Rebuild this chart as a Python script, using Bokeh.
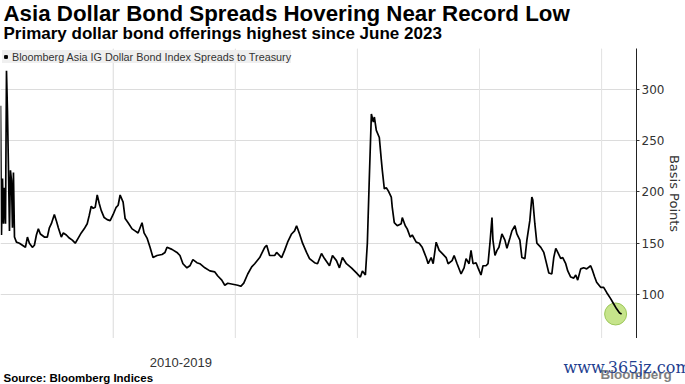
from bokeh.plotting import figure
from bokeh.layouts import column
from bokeh.models import Range1d, FixedTicker, Legend, LegendItem, Label
from bokeh.embed import file_html
from bokeh.resources import INLINE

# decimal-year positions and index spreads (basis points)
years = [2014.155, 2014.171, 2014.188, 2014.204, 2014.220, 2014.237, 2014.253, 2014.269, 2014.286, 2014.302,
         2014.318, 2014.335, 2014.351, 2014.367, 2014.384, 2014.416, 2014.465, 2014.514, 2014.563, 2014.596,
         2014.628, 2014.677, 2014.710, 2014.743, 2014.775, 2014.808, 2014.873, 2014.922, 2014.955, 2014.988,
         2015.037, 2015.069, 2015.102, 2015.151, 2015.184, 2015.233, 2015.282, 2015.331, 2015.379, 2015.428,
         2015.477, 2015.526, 2015.575, 2015.608, 2015.641, 2015.673, 2015.706, 2015.739, 2015.771, 2015.804,
         2015.853, 2015.902, 2015.951, 2016.000, 2016.049, 2016.082, 2016.114, 2016.163, 2016.196, 2016.245,
         2016.310, 2016.359, 2016.408, 2016.473, 2016.506, 2016.555, 2016.604, 2016.653, 2016.718, 2016.800,
         2016.849, 2016.882, 2016.963, 2017.045, 2017.094, 2017.143, 2017.208, 2017.257, 2017.306, 2017.371,
         2017.420, 2017.502, 2017.584, 2017.665, 2017.714, 2017.779, 2017.828, 2017.877, 2017.959, 2018.041,
         2018.090, 2018.139, 2018.204, 2018.269, 2018.318, 2018.400, 2018.482, 2018.514, 2018.563, 2018.645,
         2018.677, 2018.759, 2018.808, 2018.857, 2018.922, 2018.971, 2019.004, 2019.053, 2019.102, 2019.167,
         2019.216, 2019.298, 2019.347, 2019.412, 2019.461, 2019.543, 2019.592, 2019.657, 2019.706, 2019.755,
         2019.820, 2019.902, 2019.984, 2020.049, 2020.082, 2020.131, 2020.163, 2020.196, 2020.229, 2020.261,
         2020.278, 2020.310, 2020.359, 2020.392, 2020.408, 2020.441, 2020.473, 2020.506, 2020.555, 2020.571,
         2020.604, 2020.653, 2020.718, 2020.735, 2020.784, 2020.816, 2020.865, 2020.898, 2020.963, 2021.012,
         2021.061, 2021.094, 2021.127, 2021.159, 2021.208, 2021.241, 2021.290, 2021.339, 2021.388, 2021.453,
         2021.486, 2021.551, 2021.584, 2021.633, 2021.698, 2021.747, 2021.780, 2021.829, 2021.861, 2021.894,
         2021.943, 2021.976, 2022.024, 2022.057, 2022.106, 2022.139, 2022.171, 2022.204, 2022.220, 2022.253,
         2022.286, 2022.318, 2022.367, 2022.416, 2022.449, 2022.498, 2022.531, 2022.580, 2022.612, 2022.661,
         2022.694, 2022.743, 2022.776, 2022.824, 2022.857, 2022.873, 2022.906, 2022.939, 2023.004, 2023.053,
         2023.086, 2023.135, 2023.184, 2023.216, 2023.249, 2023.282, 2023.331, 2023.363, 2023.412, 2023.445,
         2023.494, 2023.543, 2023.576, 2023.608, 2023.657, 2023.706, 2023.755, 2023.820, 2023.853, 2023.886,
         2023.918, 2023.984, 2024.033, 2024.082, 2024.147, 2024.196, 2024.245, 2024.294, 2024.327]
spreads = [284, 158, 213, 169, 204, 169, 318, 279, 221, 162,
           221, 211, 165, 219, 156, 151, 150, 148, 146, 156,
           150, 146, 148, 158, 164, 159, 156, 156, 165, 169,
           178, 172, 165, 156, 160, 158, 155, 153, 150, 155,
           160, 164, 169, 177, 186, 184, 185, 197, 189, 182,
           175, 173, 172, 178, 185, 187, 197, 190, 174, 170,
           164, 162, 160, 170, 160, 155, 146, 136, 138, 139,
           141, 146, 144, 141, 138, 130, 126, 128, 134, 131,
           130, 126, 123, 122, 118, 114, 109, 111, 110, 109,
           108, 111, 120, 127, 130, 136, 146, 148, 138, 138,
           141, 136, 143, 151, 159, 162, 167, 159, 150, 141,
           135, 131, 130, 140, 135, 128, 138, 133, 126, 136,
           130, 126, 121, 117, 123, 119, 150, 215, 276, 268,
           273, 260, 253, 231, 221, 203, 204, 201, 195, 185,
           170, 167, 169, 175, 167, 164, 156, 158, 151, 150,
           146, 141, 136, 130, 136, 130, 151, 143, 140, 136,
           130, 133, 138, 130, 120, 126, 135, 130, 143, 130,
           131, 126, 119, 128, 128, 130, 150, 175, 153, 138,
           143, 146, 159, 153, 145, 155, 162, 167, 159, 153,
           136, 135, 153, 172, 195, 192, 169, 150, 146, 141,
           133, 121, 120, 136, 145, 141, 135, 136, 130, 123,
           117, 116, 119, 114, 125, 126, 125, 128, 123, 117,
           112, 107, 107, 102, 96, 91, 86, 82, 81]

highlight_year = [2024.229]
highlight_spread = [81]

y_ticks = [100, 150, 200, 250, 300]
y_lo, y_hi = 57.1, 339.8
x_lo, x_hi = 2014.155, 2024.571
x_grid_years = [2016, 2018, 2020, 2022, 2024]
x_label_pos = 2017.1
x_label_text = "2010-2019"

title_text = "Asia Dollar Bond Spreads Hovering Near Record Low"
subtitle_text = "Primary dollar bond offerings highest since June 2023"
source_text = "Source: Bloomberg Indices"
series_name = "Bloomberg Asia IG Dollar Bond Index Spreads to Treasury"
logo_text = "Bloomberg"
watermark_text = "www.365jz.com"

W = 685
FRAME_W = 638


def no_align(f):
    try:
        f.frame_align = False
    except Exception:
        pass


# ---- header strip: title and subtitle
head = figure(width=W, height=48, output_backend="svg", toolbar_location=None, title=None,
              x_axis_location=None, y_axis_location=None, min_border=0,
              x_range=Range1d(0, 1), y_range=Range1d(0, 1))
head.outline_line_color = None
head.grid.visible = False
no_align(head)
head.add_layout(Label(x=3, y=35.1, x_units="screen", y_units="screen", text=title_text,
                      text_baseline="middle", text_font="Liberation Sans", text_font_size="22.3px",
                      text_font_style="bold", text_color="black"))
head.add_layout(Label(x=3, y=14.6, x_units="screen", y_units="screen", text=subtitle_text,
                      text_baseline="middle", text_font="Liberation Sans", text_font_size="17px",
                      text_font_style="bold", text_color="black"))

# ---- main chart
p = figure(width=W, height=290, output_backend="svg", toolbar_location=None, title=None,
           x_range=Range1d(x_lo, x_hi), y_range=Range1d(y_lo, y_hi),
           x_axis_location=None, y_axis_location="right",
           min_border_left=0, min_border_right=W - FRAME_W, min_border_top=0, min_border_bottom=0)
p.outline_line_color = None
p.background_fill_color = "white"

p.segment(x0=x_grid_years, y0=[y_lo] * len(x_grid_years),
          x1=x_grid_years, y1=[y_hi] * len(x_grid_years),
          line_color="#e4e4e4", line_width=1)
p.ygrid.grid_line_color = "#dcdcdc"

p.yaxis.ticker = FixedTicker(ticks=y_ticks)
p.yaxis.axis_label = "Basis Points"
p.yaxis.axis_label_text_font = "DejaVu Sans"
p.yaxis.axis_label_text_font_size = "13px"
p.yaxis.axis_label_text_font_style = "normal"
p.yaxis.axis_label_text_color = "#333333"
p.yaxis.axis_label_standoff = 0
p.yaxis.major_label_text_font = "DejaVu Sans"
p.yaxis.major_label_text_font_size = "12px"
p.yaxis.major_label_text_color = "#333333"
p.yaxis.major_label_standoff = 2
p.yaxis.major_tick_out = 3
p.yaxis.major_tick_in = 0
p.yaxis.major_tick_line_color = "#333333"
p.yaxis.minor_tick_line_color = None
p.yaxis.axis_line_color = "#222222"

p.scatter(highlight_year, highlight_spread, size=22, fill_color="#c6e48b", line_color="#9cc75a", line_width=1)
p.line(years, spreads, line_color="black", line_width=1.7)
sq = p.scatter([float("nan")], [float("nan")], marker="square", size=7, color="black")

legend = Legend(items=[LegendItem(label=series_name, renderers=[sq])], location="top_left",
                background_fill_color="#efefef", background_fill_alpha=1, border_line_color=None,
                label_text_font="Liberation Sans", label_text_font_size="10.8px", label_text_color="#333333",
                glyph_width=7, glyph_height=7, padding=3, margin=2, label_standoff=3, label_height=13, spacing=0)
p.add_layout(legend)

# ---- footer strip: period label, source, branding (x scale continues the chart's)
foot = figure(width=W, height=46, output_backend="svg", toolbar_location=None, title=None,
              x_axis_location=None, y_axis_location=None, min_border=0,
              x_range=Range1d(x_lo, x_lo + (x_hi - x_lo) * W / FRAME_W), y_range=Range1d(0, 1))
foot.outline_line_color = None
foot.grid.visible = False
no_align(foot)
foot.add_layout(Label(x=x_label_pos, y=22.2, x_units="data", y_units="screen", text=x_label_text,
                      text_align="center", text_baseline="middle",
                      text_font="Liberation Sans", text_font_size="13px", text_color="#333333"))
foot.add_layout(Label(x=3, y=7, x_units="screen", y_units="screen", text=source_text,
                      text_baseline="middle", text_font="Liberation Sans", text_font_size="11.5px",
                      text_font_style="bold", text_color="black"))
foot.add_layout(Label(x=600, y=10, x_units="screen", y_units="screen", text=logo_text,
                      text_baseline="middle", text_font="Liberation Sans", text_font_size="13.5px",
                      text_color="#808080", text_font_style="bold"))
foot.add_layout(Label(x=563, y=17, x_units="screen", y_units="screen", text=watermark_text,
                      text_baseline="middle", text_font="DejaVu Serif", text_font_size="16px",
                      text_color="#1f3f8f"))

layout = column(head, p, foot, spacing=0)
open("out.html", "w").write(file_html(layout, INLINE))
